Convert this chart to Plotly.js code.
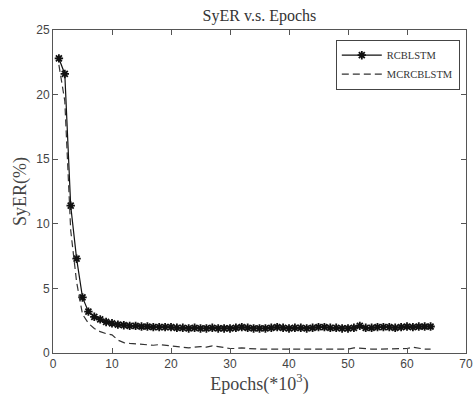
<!DOCTYPE html>
<html>
<head>
<meta charset="utf-8">
<script src="https://cdn.plot.ly/plotly-3.0.1.min.js"></script>
<style>html,body{margin:0;padding:0;background:#fff;}#chart{width:476px;height:398px;}</style>
</head>
<body>
<div id="chart"></div>
<script>
const epochs = Array.from({length: 64}, (_, i) => i + 1);
const rcblstm = [22.8, 21.6, 11.4, 7.3, 4.3, 3.2, 2.8, 2.6, 2.4, 2.3,
  2.2, 2.15, 2.1, 2.1, 2.05, 2.05, 2.0, 2.0, 2.0, 2.0,
  1.95, 1.95, 1.9, 1.95, 1.9, 1.9, 1.95, 1.9, 1.9, 1.9,
  1.95, 2.0, 1.95, 1.9, 1.9, 1.9, 1.95, 2.0, 1.95, 1.9,
  1.95, 1.95, 1.9, 1.95, 2.0, 2.0, 1.95, 1.95, 1.9, 1.9,
  1.95, 2.1, 1.95, 1.95, 2.0, 2.0, 2.0, 1.95, 2.0, 2.05,
  2.0, 2.05, 2.05, 2.05];
const mcrcblstm = [22.3, 19.5, 9.5, 5.5, 3.0, 2.3, 1.9, 1.65, 1.5, 1.4,
  1.0, 0.8, 0.75, 0.72, 0.7, 0.65, 0.6, 0.65, 0.6, 0.55,
  0.5, 0.45, 0.4, 0.45, 0.5, 0.45, 0.55, 0.5, 0.4, 0.35,
  0.35, 0.4, 0.35, 0.3, 0.3, 0.3, 0.3, 0.35, 0.3, 0.3,
  0.3, 0.3, 0.3, 0.35, 0.3, 0.3, 0.3, 0.3, 0.35, 0.3,
  0.4, 0.35, 0.3, 0.3, 0.3, 0.3, 0.3, 0.3, 0.3, 0.35,
  0.45, 0.35, 0.3, 0.3];
const seriesNames = ['RCBLSTM', 'MCRCBLSTM'];

const traces = [
  {x: epochs, y: rcblstm, name: seriesNames[0], type: 'scatter', mode: 'lines+markers',
   line: {color: '#111', width: 1.2},
   marker: {symbol: 'asterisk-open', size: 7, color: '#111', line: {color: '#111', width: 1.8}}},
  {x: epochs, y: mcrcblstm, name: seriesNames[1], type: 'scatter', mode: 'lines',
   line: {color: '#333', width: 1.2, dash: '7px,4px'}}
];

const axisCommon = {
  showline: true, linecolor: '#555', linewidth: 1, mirror: 'ticks',
  ticks: 'inside', ticklen: 5, tickcolor: '#555', showgrid: false, zeroline: false,
  tickfont: {family: 'Liberation Sans, Arial, sans-serif', size: 12, color: '#444'}
};

const layout = {
  width: 476, height: 398,
  margin: {l: 53, r: 10, t: 30, b: 45},
  paper_bgcolor: '#fff', plot_bgcolor: '#fff',
  title: {text: 'SyER v.s. Epochs', font: {family: 'Liberation Serif, Times New Roman, serif', size: 16, color: '#333'},
          x: 0.545, xanchor: 'center', y: 0.962, yanchor: 'middle'},
  xaxis: Object.assign({}, axisCommon, {range: [0, 70], tickvals: [0,10,20,30,40,50,60,70],
    title: {text: 'Epochs(*10<sup>3</sup>)', standoff: 6,
      font: {family: 'Liberation Serif, Times New Roman, serif', size: 18, color: '#444'}}}),
  yaxis: Object.assign({}, axisCommon, {range: [0, 25], tickvals: [0,5,10,15,20,25],
    title: {text: 'SyER(%)', standoff: 4,
      font: {family: 'Liberation Serif, Times New Roman, serif', size: 18, color: '#444'}}}),
  legend: {x: 0.985, y: 0.97, xanchor: 'right', yanchor: 'top', bgcolor: '#fff',
    bordercolor: '#444', borderwidth: 1,
    font: {family: 'Liberation Serif, Times New Roman, serif', size: 10.5, color: '#333'},
    tracegroupgap: 0, itemwidth: 40},
  showlegend: true
};

Plotly.newPlot('chart', traces, layout, {displayModeBar: false, staticPlot: true});
</script>
</body>
</html>
